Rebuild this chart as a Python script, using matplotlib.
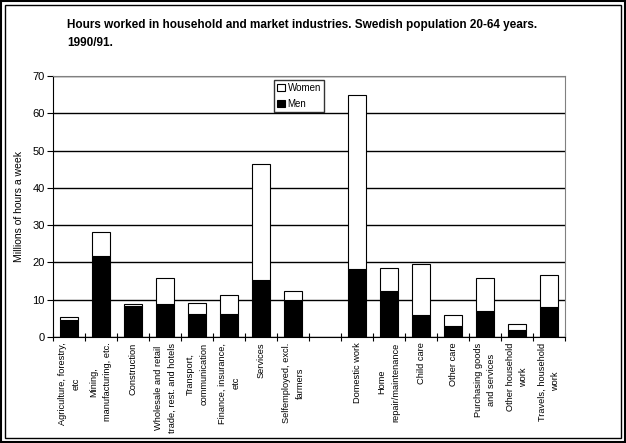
import numpy as np
import matplotlib
matplotlib.use("Agg")
import matplotlib.pyplot as plt
from matplotlib.patches import Rectangle

categories = [
    "Agriculture, forestry,\netc",
    "Mining,\nmanufacturing, etc.",
    "Construction",
    "Wholesale and retail\ntrade, rest. and hotels",
    "Transport,\ncommunication",
    "Finance, insurance,\netc",
    "Services",
    "Selfemployed, excl.\nfarmers",
    "",
    "Domestic work",
    "Home\nrepair/maintenance",
    "Child care",
    "Other care",
    "Purchasing goods\nand services",
    "Other household\nwork",
    "Travels, household\nwork",
]
men = [4.6, 21.7, 8.3, 8.8, 6.3, 6.3, 15.3, 9.9, np.nan,
       18.2, 12.3, 5.9, 2.9, 7.0, 1.9, 8.0]
total = [5.4, 28.2, 8.8, 15.7, 9.0, 11.2, 46.3, 12.3, np.nan,
         64.9, 18.4, 19.5, 5.8, 15.7, 3.4, 16.5]
women = [t - m for t, m in zip(total, men)]

plt.rcParams['font.family'] = ['Liberation Sans', 'DejaVu Sans']

fig = plt.figure(figsize=(6.26, 4.43), dpi=100)
ax = fig.add_axes([53 / 626, 1 - 337 / 443, 512 / 626, 261 / 443])

x = np.arange(len(categories))
ax.bar(x, men, width=0.58, color='black', edgecolor='black', linewidth=0.8,
       label='Men', zorder=3)
ax.bar(x, women, bottom=men, width=0.58, color='white', edgecolor='black',
       linewidth=0.8, label='Women', zorder=3)

ax.set_xlim(-0.5, len(categories) - 0.5)
ax.set_ylim(0, 70)
ax.set_yticks(range(0, 71, 10))
ax.tick_params(axis='y', labelsize=8, length=4, width=0.8, direction='out', pad=2)
ax.yaxis.grid(True, color='black', linewidth=1.0, zorder=0)

ax.set_xticks(x)
ax.set_xticklabels([])
ax.set_xticks(np.arange(-0.5, len(categories)), minor=True)
ax.tick_params(axis='x', which='major', length=0)
ax.tick_params(axis='x', which='minor', length=6, width=0.8, direction='inout')
for xi, lab in zip(x, categories):
    ax.text(xi, -1.5, lab, rotation=90, ha='center', va='top',
            multialignment='center', fontsize=6.7, linespacing=1.7,
            transform=ax.transData)

for side in ['top', 'right']:
    ax.spines[side].set_color('gray')
ax.spines['left'].set_color('black')
ax.spines['bottom'].set_color('black')

ax.set_ylabel('Millions of hours a week', fontsize=7.5, labelpad=6)

handles, labels = ax.get_legend_handles_labels()
leg = ax.legend(handles[::-1], labels[::-1], loc='upper left',
                bbox_to_anchor=(221 / 512, 0.985), fontsize=7, frameon=True,
                fancybox=False, edgecolor='black', handlelength=0.8,
                handleheight=0.8, handletextpad=0.3, borderpad=0.3,
                labelspacing=0.6, borderaxespad=0)
leg.get_frame().set_linewidth(1.0)

fig.text(67 / 626, 1 - 25 / 443, "Hours worked in household and market industries. Swedish population 20-64 years.",
         fontsize=8.5, fontweight='bold', va='center', ha='left')
fig.text(67 / 626, 1 - 43 / 443, "1990/91.", fontsize=8.5, fontweight='bold',
         va='center', ha='left')

fig.add_artist(Rectangle((1 / 626, 1 / 443), 624 / 626, 441 / 443,
                         transform=fig.transFigure, fill=False,
                         edgecolor='black', linewidth=1.5))
fig.add_artist(Rectangle((5 / 626, 5 / 443), 616 / 626, 433 / 443,
                         transform=fig.transFigure, fill=False,
                         edgecolor='black', linewidth=1.0))

fig.savefig('out.png', dpi=100)
